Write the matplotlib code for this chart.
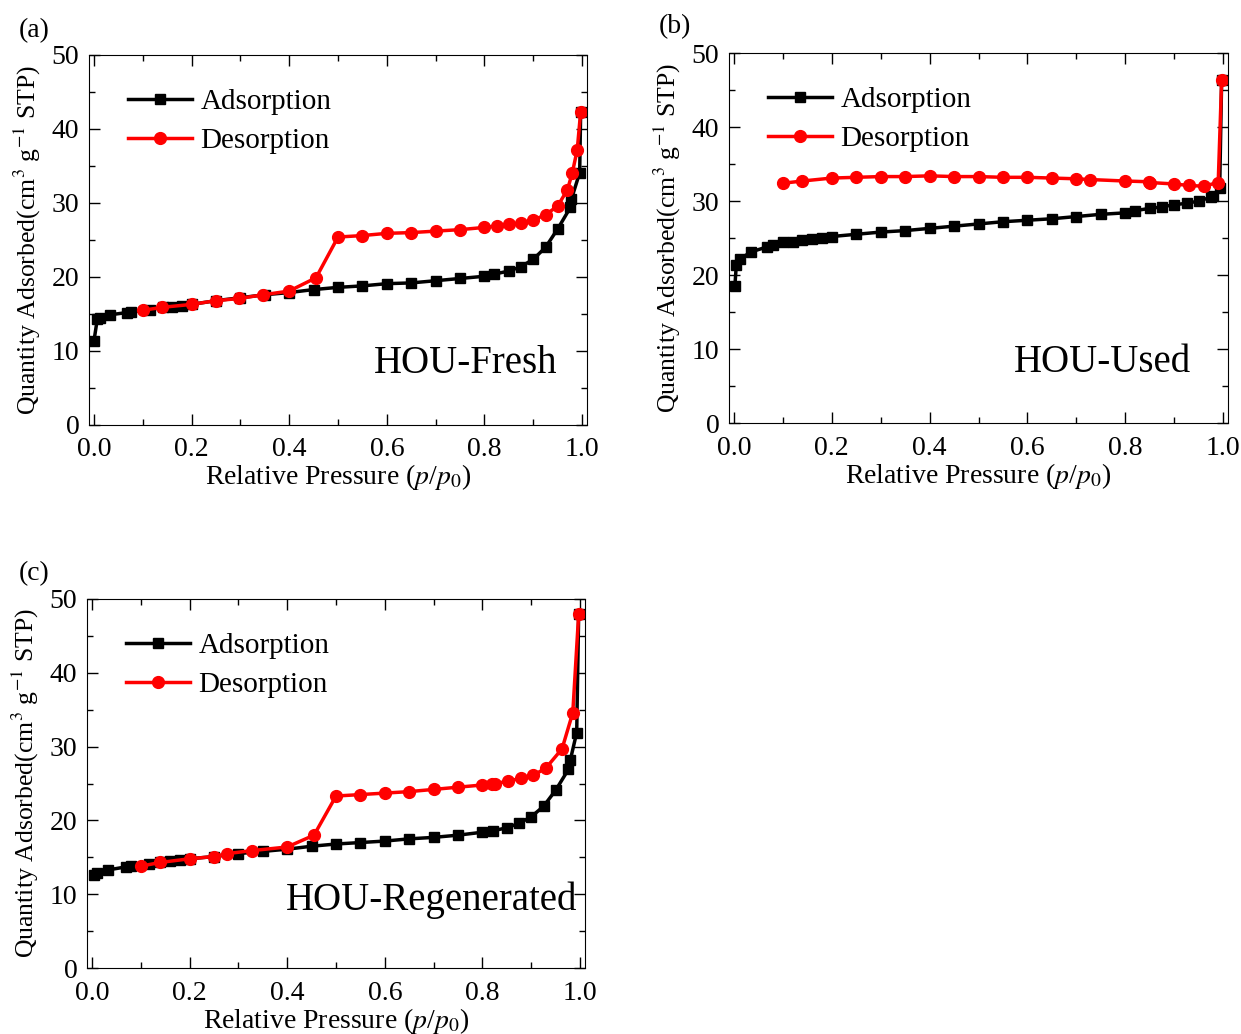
# N2 adsorption/desorption isotherms for the three HOU samples

import matplotlib
matplotlib.use("Agg")
import matplotlib.pyplot as plt
import matplotlib.ticker as ticker

plt.rcParams["font.family"] = ["Liberation Serif", "DejaVu Serif"]
plt.rcParams["mathtext.fontset"] = "stix"

# (a) fresh
fresh_ads_p = [0.0, 0.007, 0.012, 0.034, 0.068, 0.077, 0.115, 0.142, 0.161, 0.18, 0.2,
               0.25, 0.3, 0.35, 0.4, 0.45, 0.5, 0.55, 0.6, 0.65, 0.7, 0.75, 0.8, 0.82,
               0.85, 0.875, 0.9, 0.925, 0.95, 0.976, 0.978, 0.995, 0.997]
fresh_ads_q = [11.3, 14.3, 14.4, 14.9, 15.2, 15.3, 15.6, 15.9, 16.0, 16.1, 16.3,
               16.8, 17.2, 17.6, 17.9, 18.3, 18.6, 18.8, 19.1, 19.2, 19.5, 19.8, 20.1, 20.4,
               20.8, 21.4, 22.4, 24.0, 26.5, 29.4, 30.5, 34.1, 42.3]
fresh_des_p = [0.997, 0.99, 0.98, 0.97, 0.95, 0.925, 0.9, 0.875, 0.85, 0.825, 0.8,
               0.75, 0.7, 0.65, 0.6, 0.55, 0.5, 0.455, 0.4, 0.347, 0.298, 0.25, 0.2,
               0.14, 0.1]
fresh_des_q = [42.3, 37.2, 34.1, 31.8, 29.6, 28.4, 27.7, 27.3, 27.1, 26.9, 26.7,
               26.4, 26.2, 26.0, 25.9, 25.6, 25.4, 19.9, 18.1, 17.6, 17.1, 16.8, 16.3,
               15.9, 15.5]

# (b) used
used_ads_p = [0.002, 0.005, 0.012, 0.034, 0.068, 0.08, 0.1, 0.12, 0.14, 0.16, 0.18, 0.2,
              0.25, 0.3, 0.35, 0.4, 0.45, 0.5, 0.55, 0.6, 0.65, 0.7, 0.75, 0.8, 0.82,
              0.85, 0.875, 0.9, 0.927, 0.95, 0.975, 0.98, 0.993, 0.997]
used_ads_q = [18.5, 21.4, 22.1, 23.1, 23.8, 24.1, 24.4, 24.5, 24.7, 24.9, 25.0, 25.2,
              25.5, 25.8, 26.0, 26.3, 26.6, 26.9, 27.2, 27.4, 27.6, 27.9, 28.2, 28.4, 28.7,
              29.0, 29.2, 29.5, 29.7, 30.0, 30.5, 30.7, 31.7, 46.3]
used_des_p = [0.997, 0.99, 0.96, 0.93, 0.9, 0.85, 0.848, 0.8, 0.728, 0.7, 0.65, 0.6,
              0.55, 0.5, 0.45, 0.4, 0.35, 0.3, 0.25, 0.2, 0.14, 0.1]
used_des_q = [46.3, 32.5, 32.0, 32.1, 32.3, 32.5, 32.6, 32.7, 32.9, 33.0, 33.1, 33.2,
              33.2, 33.3, 33.3, 33.4, 33.3, 33.3, 33.2, 33.1, 32.7, 32.4]

# (c) regenerated
regen_ads_p = [0.005, 0.01, 0.034, 0.07, 0.08, 0.118, 0.14, 0.16, 0.18, 0.2, 0.25, 0.3,
               0.35, 0.4, 0.45, 0.5, 0.55, 0.6, 0.65, 0.7, 0.75, 0.8, 0.822, 0.85, 0.875,
               0.9, 0.925, 0.95, 0.976, 0.98, 0.993, 0.997]
regen_ads_q = [12.6, 12.9, 13.3, 13.7, 13.8, 14.1, 14.3, 14.5, 14.6, 14.8, 15.1, 15.5,
               15.8, 16.1, 16.5, 16.8, 17.0, 17.2, 17.5, 17.7, 18.0, 18.4, 18.6, 19.0, 19.6,
               20.5, 21.9, 24.1, 26.9, 28.2, 31.9, 47.9]
regen_des_p = [0.997, 0.985, 0.963, 0.93, 0.904, 0.878, 0.852, 0.826, 0.82, 0.8, 0.75,
               0.7, 0.65, 0.6, 0.55, 0.5, 0.455, 0.4, 0.327, 0.277, 0.25, 0.2, 0.14, 0.1]
regen_des_q = [47.9, 34.6, 29.7, 27.1, 26.1, 25.7, 25.3, 25.0, 25.0, 24.8, 24.5,
               24.2, 23.9, 23.7, 23.5, 23.3, 18.0, 16.4, 15.9, 15.5, 15.1, 14.8, 14.3, 13.8]

W, H = 1241, 1034


def box(left, top, right, bottom):
	return [left / W, 1 - bottom / H, (right - left) / W, (bottom - top) / H]


def isotherm(ax, ads_p, ads_q, des_p, des_q, name, name_xy, tag, tag_xy):
	ax.plot(ads_p, ads_q, color="black", lw=2.5, marker="s", ms=7, label="Adsorption")
	ax.plot(des_p, des_q, color="#ff0000", lw=2.5, marker="o", ms=8.5, label="Desorption")
	ax.set_xlim(-0.01, 1.01)
	ax.set_ylim(0, 50)
	ax.xaxis.set_major_locator(ticker.MultipleLocator(0.2))
	ax.xaxis.set_minor_locator(ticker.MultipleLocator(0.1))
	ax.yaxis.set_major_locator(ticker.MultipleLocator(10))
	ax.yaxis.set_minor_locator(ticker.MultipleLocator(5))
	ax.xaxis.set_major_formatter(ticker.FormatStrFormatter("%.1f"))
	ax.tick_params(which="both", direction="in", top=True, right=True, width=1)
	ax.tick_params(which="major", length=8, labelsize=20)
	ax.tick_params(which="minor", length=4)
	ax.tick_params(axis="x", pad=9)
	ax.tick_params(axis="y", pad=7)
	ax.set_xlabel("Relative Pressure ($p$/$p_0$)", fontsize=20, labelpad=0)
	ax.set_ylabel("Quantity Adsorbed(cm$^3$ g$^{-1}$ STP)", fontsize=18.5, labelpad=6)
	ax.legend(loc="upper left", bbox_to_anchor=(0.054, 0.94), borderaxespad=0,
			  frameon=False, fontsize=21, handlelength=2.2, handletextpad=0.3,
			  labelspacing=0.42)
	ax.text(name_xy[0], name_xy[1], name, transform=ax.transAxes, ha="right",
			va="baseline", fontsize=28)
	ax.figure.text(tag_xy[0] / W, 1 - tag_xy[1] / H, tag, fontsize=20, ha="left", va="center")


fig = plt.figure(figsize=(W / 100, H / 100), dpi=100)

ax_a = fig.add_axes(box(89, 55, 587, 425))
isotherm(ax_a, fresh_ads_p, fresh_ads_q, fresh_des_p, fresh_des_q,
		 "HOU-Fresh", (0.94, 0.14), "(a)", (19, 31))

ax_b = fig.add_axes(box(729, 53, 1228, 423))
isotherm(ax_b, used_ads_p, used_ads_q, used_des_p, used_des_q,
		 "HOU-Used", (0.926, 0.138), "(b)", (659, 27))

ax_c = fig.add_axes(box(87, 599, 585, 968))
isotherm(ax_c, regen_ads_p, regen_ads_q, regen_des_p, regen_des_q,
		 "HOU-Regenerated", (0.984, 0.157), "(c)", (19, 574))

plt.savefig("out.png", dpi=100)
